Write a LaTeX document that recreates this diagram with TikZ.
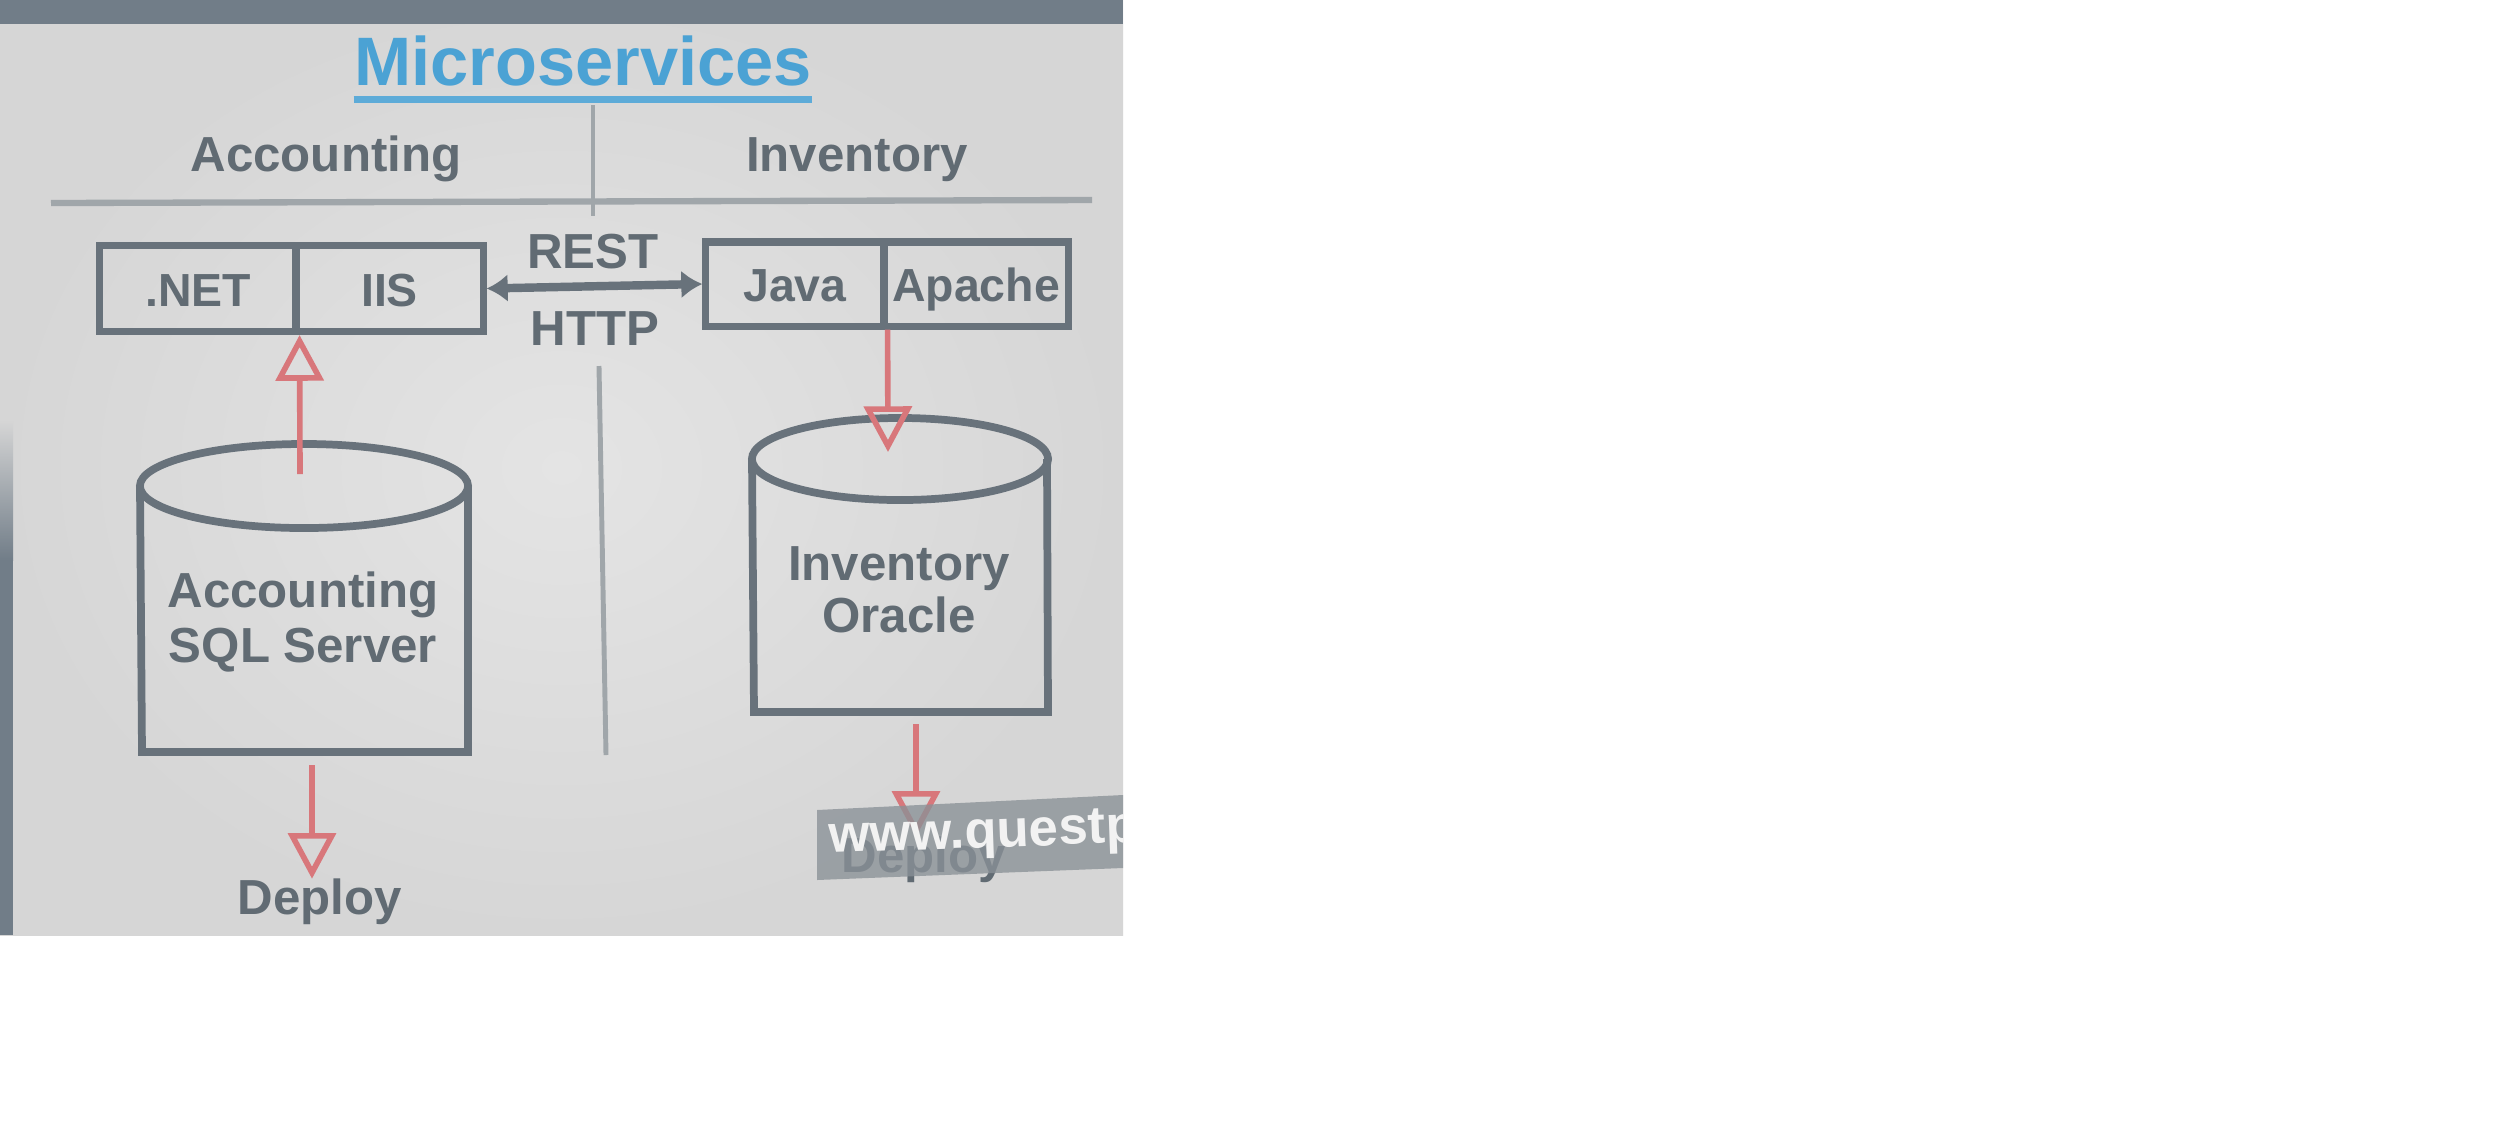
\documentclass[tikz,border=0pt]{standalone}
\usepackage{fontspec}
\setmainfont{Liberation Sans}
\usetikzlibrary{arrows.meta}
\definecolor{slidein}{HTML}{E4E4E4}
\definecolor{slideedge}{HTML}{D6D6D6}
\definecolor{band}{HTML}{717D88}
\definecolor{txtgray}{HTML}{616B73}
\definecolor{boxgray}{HTML}{68727B}
\definecolor{sepgray}{HTML}{A0A6AA}
\definecolor{redC}{HTML}{D8777B}
\definecolor{blueC}{HTML}{4BA2D4}
\definecolor{wmgray}{HTML}{8A9197}
\tikzset{
  lbl/.style={font=\fontsize{14}{15.5}\selectfont\bfseries, text=txtgray, inner sep=0pt},
  one/.style={lbl, text height=10pt, text depth=0pt},
  celltxt/.style={one, font=\fontsize{13.2}{15}\selectfont\bfseries},
  cell/.style={celltxt, draw=boxgray, line width=2pt, minimum height=0.86cm},
  sepline/.style={draw=sepgray, line width=1.4pt},
  cylline/.style={draw=boxgray, line width=2.2pt},
  redarrow/.style={draw=redC, line width=1.6pt, -{Triangle[open, length=13pt, width=13.5pt, line width=1.6pt]}},
  dblarrow/.style={draw=boxgray, line width=2.4pt, {Latex[length=6pt,width=8pt]}-{Latex[length=6pt,width=8pt]}},
}
\begin{document}
\begin{tikzpicture}[x=0.01cm,y=-0.01cm]
\useasboundingbox (0,0) rectangle (2493,1144);
\fill[white] (0,0) rectangle (2493,1144);
% slide photo background
\shade[inner color=slidein, outer color=slideedge] (0,0) rectangle (1123,935);
\fill[band] (0,0) rectangle (1123,24);
\shade[top color=slideedge, bottom color=band] (0,420) rectangle (13,560);
\fill[band] (0,560) rectangle (13,935);

% title
\node[font=\fontsize{19.5}{22}\selectfont\bfseries, text=blueC, inner sep=0pt, text height=14pt, text depth=0pt] (title) at (583,61) {Microservices};
\draw[blueC!90!white, line width=1.9pt] ([yshift=-3.8pt]title.south west) -- ([yshift=-3.8pt]title.south east);

% headers
\node[one] (acchdr) at (326,154) {Accounting};
\node[one] (invhdr) at (857,154) {Inventory};

% separator lines
\coordinate (vtop) at (593,105);
\coordinate (vbot) at (593,216);
\draw[sepline] (vtop) -- (vbot);
\coordinate (hleft) at (51,203);
\coordinate (hright) at (1092,200);
\draw[sepline, line width=1.8pt] (hleft) -- (hright);
\coordinate (v2top) at (599,366);
\coordinate (v2bot) at (606,755);
\draw[sepline] (v2top) -- (v2bot);

% boxes
\node[cell, minimum width=1.96cm] (net) at (198,288.5) {.NET};
\node[cell, minimum width=1.87cm] (iis) at (389.5,288.5) {IIS};
\node[cell, minimum width=1.78cm, minimum height=0.84cm] (java) at (795,284) {Java};
\node[cell, minimum width=1.84cm, minimum height=0.84cm] (apache) at (976,284) {Apache};

% REST / HTTP link
\node[one] (rest) at (593,251) {REST};
\node[one] (http) at (595,328) {HTTP};
\draw[dblarrow] (iis.east) -- (java.west);

% left cylinder
\draw[cylline] (140,486) -- (142,752) -- (468,752) -- (468,486);
\draw[cylline] (304,486) ellipse [x radius=1.64cm, y radius=0.42cm];
\node[lbl, align=center] (sqldb) at (303,622) {Accounting\\SQL Server};

% right cylinder
\draw[cylline] (752,459) -- (754,712) -- (1048,712) -- (1047,459);
\draw[cylline] (900,459) ellipse [x radius=1.48cm, y radius=0.41cm];
\node[lbl, align=center, font=\fontsize{14}{14.8}\selectfont\bfseries] (oradb) at (899,590) {Inventory\\Oracle};

% red arrows
\coordinate (sqltop) at (300,474);
\draw[redarrow] (sqltop) -- (net.south east);
\coordinate (oratop) at (888,452);
\draw[redarrow] (java.south east) -- (oratop);

% deploy
\node[one] (dep1) at (320,897) {Deploy};
\coordinate (sqlbot) at (312,765);
\draw[redarrow] (sqlbot) -- (sqlbot |- dep1.north);
\node[one] (dep2) at (924,855) {Deploy};
\coordinate (orabot) at (916,724);
\draw[redarrow] (orabot) -- (orabot |- dep2.north);

% watermark
\fill[wmgray, opacity=0.78] (817,810) -- (1123,795) -- (1123,868) -- (817,880) -- cycle;
\begin{scope}
\clip (817,810) -- (1123,795) -- (1123,868) -- (817,880) -- cycle;
\node[anchor=base west, inner sep=0pt, text=white!90!gray, font=\fontsize{15}{17}\selectfont\bfseries, rotate=2] (wmtext) at (829,853) {www.questp};
\end{scope}
\end{tikzpicture}
\end{document}
